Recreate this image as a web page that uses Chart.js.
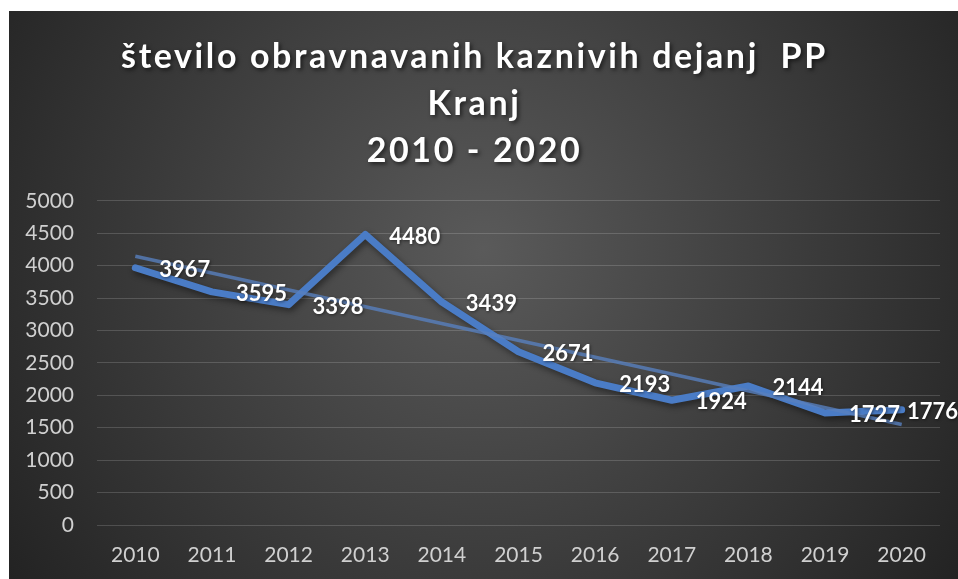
<!DOCTYPE html>
<html>
<head>
<meta charset="utf-8">
<script src="https://cdn.jsdelivr.net/npm/chart.js@4"></script>
<style>
  html, body { margin: 0; padding: 0; background: #ffffff; }
  body { width: 958px; height: 579px; position: relative; overflow: hidden; }
  #wrap { position: absolute; left: 9px; top: 11px; width: 949px; height: 568px; }
  canvas { display: block; }
</style>
</head>
<body>
<div id="wrap"><canvas id="c" width="949" height="568"></canvas></div>
<script>
// ---- data ----
const titleLines = ['število obravnavanih kaznivih dejanj  PP', 'Kranj', '2010 - 2020'];
const categories = ['2010', '2011', '2012', '2013', '2014', '2015', '2016', '2017', '2018', '2019', '2020'];
const values = [3967, 3595, 3398, 4480, 3439, 2671, 2193, 1924, 2144, 1727, 1776];
// linear trendline, read at its two ends
const trendValues = [4144, null, null, null, null, null, null, null, null, null, 1549];
const yMin = 0;
const yMax = 5000;
const yStep = 500;

const bgPlugin = {
  id: 'bg',
  beforeDraw(chart) {
    const { ctx, width, height } = chart;
    ctx.save();
    const cx = width * 0.5, cy = height * 0.42;
    const g = ctx.createRadialGradient(cx, cy, 0, cx, cy, Math.sqrt(width * width + height * height) * 0.55);
    g.addColorStop(0, '#5a5a5a');
    g.addColorStop(1, '#202020');
    ctx.fillStyle = g;
    ctx.fillRect(0, 0, width, height);
    ctx.restore();
  }
};

const titleSpacing = {
  id: 'titleSpacing',
  afterInit(chart) {
    const tb = chart.titleBlock;
    if (!tb) return;
    const orig = tb.draw.bind(tb);
    tb.draw = function () {
      const ctx = chart.ctx;
      ctx.save();
      try { ctx.letterSpacing = '2.6px'; } catch (e) {}
      ctx.shadowColor = 'rgba(0,0,0,0.6)';
      ctx.shadowBlur = 4;
      ctx.shadowOffsetX = 2;
      ctx.shadowOffsetY = 2;
      orig();
      ctx.restore();
    };
  }
};

const lineShadow = {
  id: 'lineShadow',
  beforeDatasetDraw(chart, args) {
    if (args.index !== 1) return;
    const ctx = chart.ctx;
    ctx.save();
    ctx.shadowColor = 'rgba(0,0,0,0.45)';
    ctx.shadowBlur = 6;
    ctx.shadowOffsetX = 2;
    ctx.shadowOffsetY = 3;
  },
  afterDatasetDraw(chart, args) {
    if (args.index !== 1) return;
    chart.ctx.restore();
  }
};

const dataLabels = {
  id: 'dataLabels',
  afterDatasetsDraw(chart) {
    const ctx = chart.ctx;
    const meta = chart.getDatasetMeta(1);
    const ds = chart.data.datasets[1];
    ctx.save();
    ctx.font = 'bold 22px Lato';
    ctx.fillStyle = '#ffffff';
    ctx.textAlign = 'left';
    ctx.textBaseline = 'middle';
    ctx.shadowColor = 'rgba(0,0,0,0.5)';
    ctx.shadowBlur = 3;
    ctx.shadowOffsetX = 1;
    ctx.shadowOffsetY = 1;
    meta.data.forEach((pt, i) => {
      const txt = String(ds.data[i]);
      const w = ctx.measureText(txt).width;
      let x = pt.x + 24;
      if (x + w > chart.width) x = chart.width - w;
      ctx.fillText(txt, x, pt.y + 2);
    });
    ctx.restore();
  }
};

new Chart(document.getElementById('c'), {
  type: 'line',
  data: {
    labels: categories,
    datasets: [
      {
        label: 'Linear trend',
        data: trendValues,
        spanGaps: true,
        borderColor: 'rgba(88,128,190,0.8)',
        borderWidth: 3.5,
        pointRadius: 0,
        tension: 0,
        fill: false,
        order: 0
      },
      {
        label: 'število',
        data: values,
        borderColor: '#4a7cc6',
        borderWidth: 7,
        borderCapStyle: 'round',
        borderJoinStyle: 'round',
        pointRadius: 0,
        tension: 0,
        fill: false,
        order: 1
      }
    ]
  },
  options: {
    responsive: false,
    animation: false,
    devicePixelRatio: 1,
    layout: { padding: { left: 0, right: 18, top: 0, bottom: 0 } },
    plugins: {
      legend: { display: false },
      tooltip: { enabled: false },
      title: {
        display: true,
        text: titleLines,
        color: '#ffffff',
        font: { family: 'Lato', size: 34, weight: 'bold', lineHeight: 1.39 },
        padding: { top: 22, bottom: 26 }
      }
    },
    scales: {
      x: {
        offset: true,
        grid: { display: false, drawTicks: false },
        border: { display: false },
        ticks: { color: '#d0d0d0', font: { family: 'Lato', size: 21 }, padding: 18, maxRotation: 0 },
        afterFit(scale) { scale.height = 54; }
      },
      y: {
        min: yMin,
        max: yMax,
        grid: { color: 'rgba(255,255,255,0.16)', lineWidth: 1, drawTicks: false },
        border: { display: false },
        ticks: {
          stepSize: yStep,
          color: '#d0d0d0',
          font: { family: 'Lato', size: 21 },
          padding: 23,
          callback: (v) => String(v)
        },
        afterFit(scale) { scale.width = 88; }
      }
    }
  },
  plugins: [bgPlugin, titleSpacing, lineShadow, dataLabels]
});
</script>
</body>
</html>
